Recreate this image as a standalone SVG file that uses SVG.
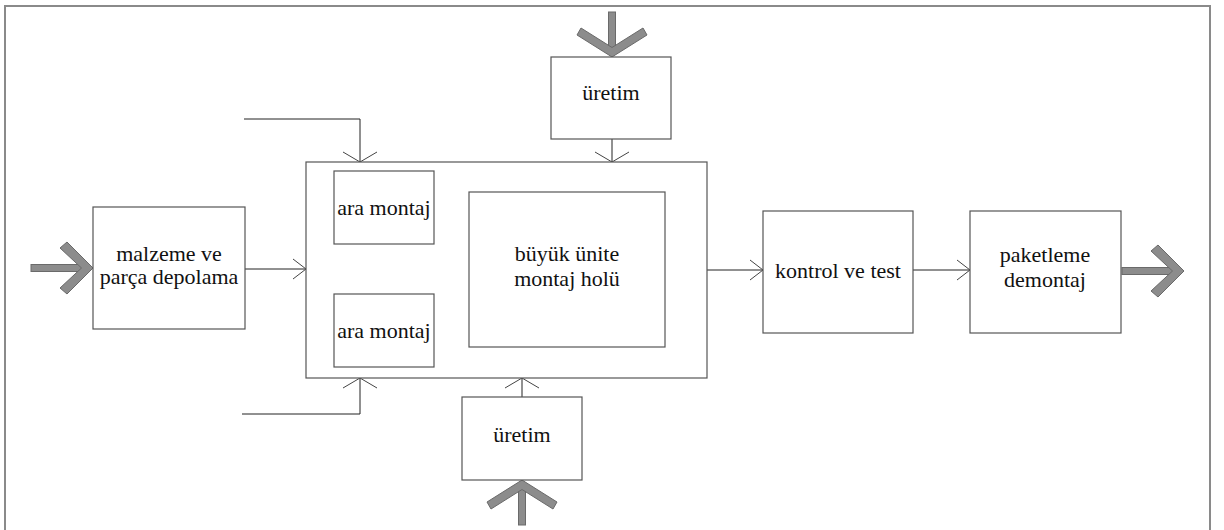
<svg xmlns="http://www.w3.org/2000/svg" width="1224" height="530" viewBox="0 0 1224 530">
  <style>
    .box { fill: #ffffff; stroke: #555555; stroke-width: 1.2; }
    .frame { fill: #ffffff; stroke: #8a8a8a; stroke-width: 2; }
    .lbl { font-family: "Liberation Serif", "Times New Roman", serif; font-size: 22px; fill: #111111; text-anchor: middle; }
    .wire { fill: none; stroke: #222222; stroke-width: 1; }
    .hwire { fill: none; stroke: #222222; stroke-width: 1; marker-end: url(#headH); }
    .vwire { fill: none; stroke: #222222; stroke-width: 1; marker-end: url(#headV); }
    .fat { fill: #8c8c8c; stroke: #6a6a6a; stroke-width: 1; stroke-linejoin: miter; }
  </style>
  <defs>
    <!-- open V heads; horizontal and vertical runs use slightly different proportions -->
    <marker id="headH" markerUnits="userSpaceOnUse" viewBox="-14 -11 16 22" refX="0" refY="0" markerWidth="16" markerHeight="22" orient="auto" overflow="visible">
      <path d="M -13 -10 L 0 0 L -13 10" fill="none" stroke="#444444" stroke-width="1"/>
    </marker>
    <marker id="headV" markerUnits="userSpaceOnUse" viewBox="-12 -18 14 36" refX="0" refY="0" markerWidth="14" markerHeight="36" orient="auto" overflow="visible">
      <path d="M -10 -17 L 0 0 L -10 17" fill="none" stroke="#444444" stroke-width="1"/>
    </marker>
    <!-- heavy flow arrow pointing right, tip at origin -->
    <g id="fatH">
      <rect class="fat" x="-62" y="-3.5" width="52" height="7"/>
      <polygon class="fat" points="0,0 -26,-26 -33,-20 -11.5,0 -33,20 -26,26"/>
    </g>
    <!-- heavy flow arrow pointing down, tip at origin -->
    <g id="fatV">
      <rect class="fat" x="-3.5" y="-45" width="7" height="37"/>
      <polygon class="fat" points="0,0 -35,-22 -31,-29 0,-9.5 31,-29 35,-22"/>
    </g>
  </defs>

  <rect x="0" y="0" width="1224" height="530" fill="#ffffff"/>
  <rect class="frame" x="5" y="6" width="1205" height="540"/>

  <!-- connectors -->
  <g id="connectors">
    <path class="hwire" d="M 245 269 L 306 269"/>
    <path class="hwire" d="M 434 207 L 469 207"/>
    <path class="hwire" d="M 434 331 L 469 331"/>
    <path class="hwire" d="M 707 270 L 763 270"/>
    <path class="hwire" d="M 913 270 L 970 270"/>
    <!-- side feeds into the assembly area -->
    <path class="vwire" d="M 244 119 L 360 119 L 360 162"/>
    <path class="vwire" d="M 242 414 L 360 414 L 360 378"/>
    <!-- production feeds -->
    <path class="vwire" d="M 612 139 L 612 162"/>
    <path class="vwire" d="M 612 162 L 612 192"/>
    <path class="vwire" d="M 522 397 L 522 378"/>
    <path class="vwire" d="M 522 378 L 522 347"/>
    <!-- heavy material flow arrows -->
    <use href="#fatH" transform="translate(93 268)"/>
    <use href="#fatH" transform="translate(1184 271)"/>
    <use href="#fatV" transform="translate(612 57)"/>
    <use href="#fatV" transform="translate(522 480) rotate(180)"/>
  </g>

  <g id="assembly-area">
    <rect class="box" x="306" y="162" width="401" height="216" fill="none"/>
  </g>

  <g id="storage">
    <rect class="box" x="93" y="207" width="152" height="122"/>
    <text class="lbl" x="169" y="261">malzeme ve</text>
    <text class="lbl" x="169" y="284">parça depolama</text>
  </g>

  <g id="sub-assembly-1">
    <rect class="box" x="334" y="171" width="100" height="73"/>
    <text class="lbl" x="384" y="215">ara montaj</text>
  </g>

  <g id="sub-assembly-2">
    <rect class="box" x="334" y="294" width="100" height="73"/>
    <text class="lbl" x="384" y="338">ara montaj</text>
  </g>

  <g id="main-hall">
    <rect class="box" x="469" y="192" width="196" height="155"/>
    <text class="lbl" x="567" y="261">büyük ünite</text>
    <text class="lbl" x="567" y="286">montaj holü</text>
  </g>

  <g id="production-top">
    <rect class="box" x="551" y="57" width="120" height="82"/>
    <text class="lbl" x="611" y="100">üretim</text>
  </g>

  <g id="production-bottom">
    <rect class="box" x="462" y="397" width="120" height="83"/>
    <text class="lbl" x="522" y="442">üretim</text>
  </g>

  <g id="inspection">
    <rect class="box" x="763" y="211" width="150" height="122"/>
    <text class="lbl" x="838" y="278">kontrol ve test</text>
  </g>

  <g id="packing">
    <rect class="box" x="970" y="211" width="151" height="122"/>
    <text class="lbl" x="1045" y="262">paketleme</text>
    <text class="lbl" x="1045" y="287">demontaj</text>
  </g>
</svg>
